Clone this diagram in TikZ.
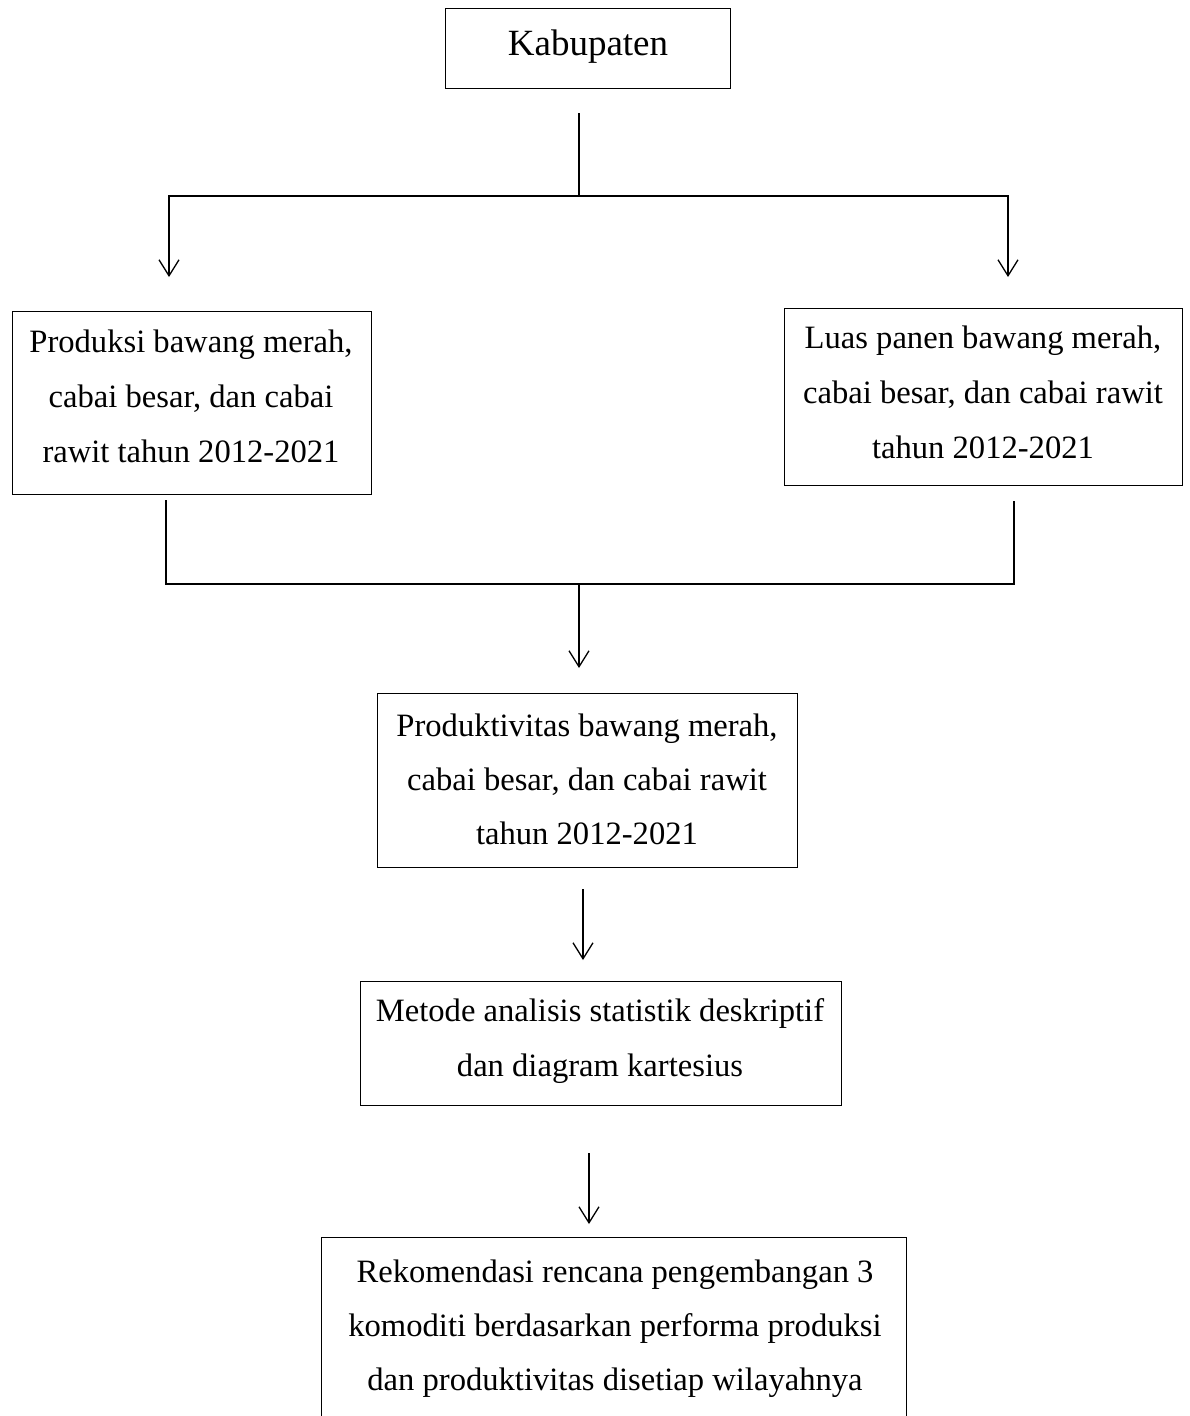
\documentclass[tikz,border=0pt]{standalone}
\usepackage{fontspec}
\setmainfont{Liberation Serif}
\usetikzlibrary{arrows.meta}
\begin{document}
\begin{tikzpicture}[x=1pt,y=-1pt,
  box/.style={draw,line width=1.3pt,inner sep=0pt,anchor=north west},
  txt/.style={anchor=base,inner sep=0pt,font=\fontsize{32.6}{40}\selectfont},
  bigtxt/.style={anchor=base,inner sep=0pt,font=\fontsize{37}{44}\selectfont},
  conn/.style={line width=1.3pt},
  arr/.style={line width=1.3pt,-{Straight Barb[length=16pt,width=20pt,line width=1.3pt]}}]
\useasboundingbox (0,0) rectangle (1189,1416);
% boxes
\node[box,minimum width=285pt,minimum height=80pt] (b0) at (445,8) {};
\node[box,minimum width=359pt,minimum height=183pt] (b1) at (12,311) {};
\node[box,minimum width=398pt,minimum height=177pt] (b2) at (784,308) {};
\node[box,minimum width=420pt,minimum height=174pt] (b3) at (377,693) {};
\node[box,minimum width=481pt,minimum height=124pt] (b4) at (360,981) {};
\node[box,minimum width=585pt,minimum height=200pt] (b5) at (321,1237) {};
% texts
\node[bigtxt] (t0) at (588,55) {Kabupaten};
\node[txt] (t1a) at (191,352) {Produksi bawang merah,};
\node[txt] (t1b) at (191,407) {cabai besar, dan cabai};
\node[txt] (t1c) at (191,462) {rawit tahun 2012-2021};
\node[txt] (t2a) at (983,348) {Luas panen bawang merah,};
\node[txt] (t2b) at (983,403) {cabai besar, dan cabai rawit};
\node[txt] (t2c) at (983,458) {tahun 2012-2021};
\node[txt] (t3a) at (587,736) {Produktivitas bawang merah,};
\node[txt] (t3b) at (587,790) {cabai besar, dan cabai rawit};
\node[txt] (t3c) at (587,844) {tahun 2012-2021};
\node[txt] (t4a) at (600,1021) {Metode analisis statistik deskriptif};
\node[txt] (t4b) at (600,1076) {dan diagram kartesius};
\node[txt] (t5a) at (615,1282) {Rekomendasi rencana pengembangan 3};
\node[txt] (t5b) at (615,1336) {komoditi berdasarkan performa produksi};
\node[txt] (t5c) at (615,1390) {dan produktivitas disetiap wilayahnya};
% connector coordinates
\coordinate (k0) at (579,113);
\coordinate (k1) at (579,196);
\coordinate (kl) at (169,196);
\coordinate (kr) at (1008,196);
\coordinate (al) at (169,277);
\coordinate (ar) at (1008,277);
\coordinate (m1) at (166,500);
\coordinate (m1b) at (166,584);
\coordinate (m2) at (1014,501);
\coordinate (m2b) at (1014,584);
\coordinate (mc) at (579,584);
\coordinate (a3) at (579,668);
\coordinate (p3) at (583,889);
\coordinate (a4) at (583,960);
\coordinate (p4) at (589,1153);
\coordinate (a5) at (589,1224);
% connectors
\draw[conn] (k0) -- (k1);
\draw[arr] (k1) -- (kl) -- (al);
\draw[arr] (k1) -- (kr) -- (ar);
\draw[conn] (m1) -- (m1b) -- (m2b) -- (m2);
\draw[arr] (mc) -- (a3);
\draw[arr] (p3) -- (a4);
\draw[arr] (p4) -- (a5);
\end{tikzpicture}
\end{document}
